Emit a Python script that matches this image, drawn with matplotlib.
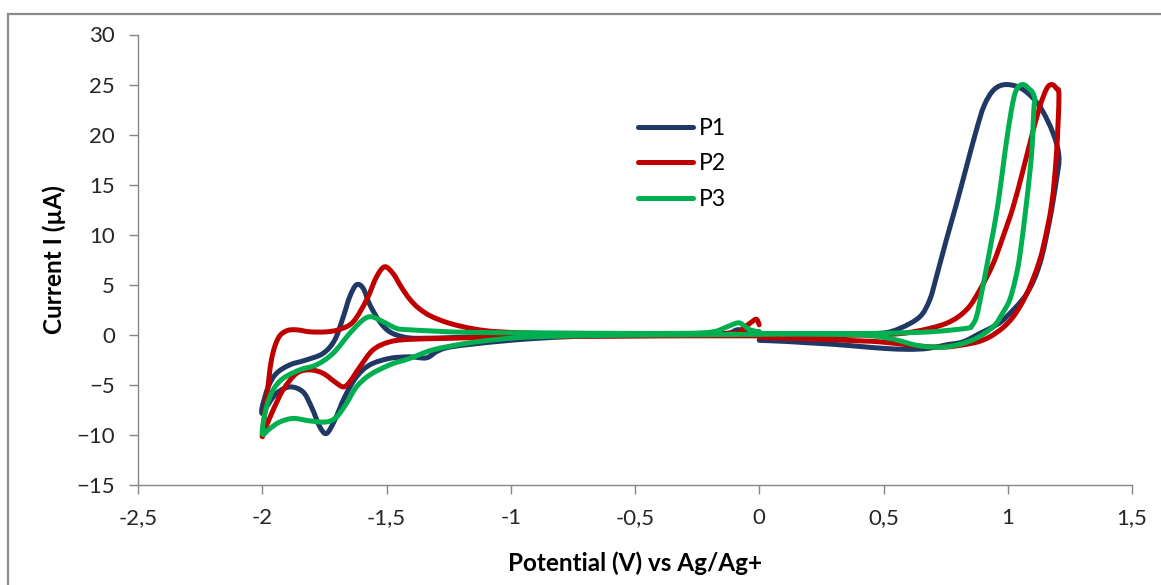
import numpy as np
import matplotlib
matplotlib.use("Agg")
import matplotlib.pyplot as plt
from matplotlib.lines import Line2D
from matplotlib.path import Path
from matplotlib.patches import PathPatch
from matplotlib.ticker import FuncFormatter

plt.rcParams['font.family'] = ['Lato', 'DejaVu Sans']

# cyclic voltammograms: (potential V, current uA) along the scan
p1 = [(0.0, -0.55), (0.1, -0.65), (0.2, -0.8), (0.3, -0.95), (0.4, -1.15), (0.5, -1.35),
      (0.6, -1.45), (0.68, -1.35), (0.753, -1.0), (0.82, -0.7), (0.888, 0.15), (0.955, 1.0),
      (0.995, 1.8), (1.076, 4.1), (1.129, 7.1), (1.169, 11.5), (1.196, 15.5), (1.206, 17.8),
      (1.183, 20.1), (1.129, 22.8), (1.062, 24.5), (0.995, 25.0), (0.945, 24.5), (0.905, 22.9),
      (0.872, 20.3), (0.834, 16.8), (0.794, 13.1), (0.753, 9.5), (0.713, 5.8), (0.686, 3.5),
      (0.646, 1.8), (0.566, 0.65), (0.485, 0.15), (0.3, 0.1), (0.0, 0.05),
      (-0.3, -0.05), (-0.6, -0.1), (-0.78, -0.2), (-0.98, -0.5), (-1.18, -1.0), (-1.26, -1.3),
      (-1.3, -1.7), (-1.34, -2.3), (-1.406, -2.2), (-1.487, -2.35), (-1.567, -3.0), (-1.621, -4.2),
      (-1.668, -6.2), (-1.708, -8.5), (-1.741, -9.85), (-1.768, -9.2), (-1.802, -7.2),
      (-1.836, -5.7), (-1.889, -5.2), (-1.943, -5.85), (-1.983, -7.2), (-2.0, -7.85),
      (-2.0, -7.2), (-1.976, -5.2), (-1.943, -3.85), (-1.889, -3.0), (-1.822, -2.5),
      (-1.755, -1.85), (-1.708, -0.5), (-1.674, 1.8), (-1.648, 3.8), (-1.621, 5.0),
      (-1.594, 4.65), (-1.567, 3.0), (-1.527, 1.3), (-1.487, 0.3), (-1.433, -0.2),
      (-1.37, -0.35), (-1.2, -0.25), (-1.0, -0.15), (-0.7, -0.05), (-0.4, 0.0), (-0.2, 0.05),
      (-0.12, 0.2), (-0.09, 0.5), (-0.06, 0.45), (-0.03, 0.3), (0.0, 0.3)]

p2 = [(0.0, -0.25), (0.2, -0.4), (0.4, -0.6), (0.485, -0.7), (0.6, -1.0), (0.686, -1.2),
      (0.76, -1.2), (0.82, -1.0), (0.88, -0.7), (0.928, -0.2), (0.98, 0.7), (1.022, 1.8),
      (1.06, 3.3), (1.089, 4.8), (1.12, 6.8), (1.143, 8.8), (1.177, 13.1), (1.196, 18.1),
      (1.206, 23.8), (1.196, 24.6), (1.177, 25.0), (1.157, 24.6), (1.129, 22.8), (1.096, 19.8),
      (1.062, 16.5), (1.022, 12.8), (0.981, 9.8), (0.941, 7.1), (0.888, 4.5), (0.834, 2.5),
      (0.753, 1.15), (0.619, 0.3), (0.485, 0.0), (0.2, -0.05), (0.0, -0.1),
      (-0.3, -0.1), (-0.7, -0.15), (-1.0, -0.2), (-1.25, -0.35), (-1.406, -0.45), (-1.487, -0.7),
      (-1.554, -1.5), (-1.607, -3.2), (-1.648, -4.7), (-1.674, -5.2), (-1.708, -4.7),
      (-1.755, -3.85), (-1.808, -3.5), (-1.862, -3.85), (-1.916, -5.5), (-1.956, -7.5),
      (-1.99, -9.5), (-2.0, -10.0),
      (-1.983, -6.5), (-1.963, -2.5), (-1.936, -0.35), (-1.902, 0.4), (-1.862, 0.5),
      (-1.808, 0.3), (-1.741, 0.3), (-1.688, 0.55), (-1.634, 1.3), (-1.58, 3.5), (-1.54, 5.8),
      (-1.507, 6.8), (-1.473, 6.1), (-1.44, 4.75), (-1.406, 3.55), (-1.37, 2.65), (-1.32, 1.85),
      (-1.246, 1.15), (-1.15, 0.6), (-1.045, 0.3), (-0.8, 0.1), (-0.4, 0.05), (-0.1, 0.15),
      (-0.065, 0.65), (-0.03, 1.3), (-0.011, 1.55), (0.0, 1.0)]

p3 = [(0.0, 0.15), (0.2, 0.1), (0.4, 0.0), (0.485, -0.2), (0.55, -0.5), (0.646, -1.1),
      (0.753, -1.2), (0.86, -0.5), (0.941, 0.8), (0.98, 2.2), (1.008, 3.5), (1.03, 5.5),
      (1.048, 7.8), (1.075, 13.1), (1.096, 18.1), (1.105, 22.5), (1.109, 23.5), (1.1, 24.2),
      (1.089, 24.5), (1.062, 25.0), (1.035, 24.5), (1.015, 22.5), (0.988, 18.1), (0.961, 13.1),
      (0.928, 8.5), (0.894, 4.1), (0.874, 1.8), (0.855, 0.9), (0.834, 0.65), (0.686, 0.3),
      (0.485, 0.15), (0.2, 0.1), (0.0, 0.05),
      (-0.3, 0.0), (-0.6, -0.05), (-0.91, -0.2), (-1.05, -0.45), (-1.179, -0.85), (-1.313, -1.5),
      (-1.406, -2.35), (-1.487, -3.0), (-1.567, -4.0), (-1.621, -5.2), (-1.661, -6.85),
      (-1.701, -8.2), (-1.741, -8.7), (-1.808, -8.6), (-1.875, -8.35), (-1.929, -8.7),
      (-1.969, -9.35), (-2.0, -9.85),
      (-1.983, -7.2), (-1.956, -5.5), (-1.916, -4.35), (-1.849, -3.5), (-1.782, -3.0),
      (-1.715, -1.85), (-1.648, 0.15), (-1.594, 1.5), (-1.56, 1.8), (-1.513, 1.3), (-1.46, 0.65),
      (-1.406, 0.5), (-1.179, 0.25), (-0.884, 0.2), (-0.6, 0.15), (-0.3, 0.15), (-0.186, 0.3),
      (-0.13, 0.8), (-0.085, 1.2), (-0.06, 0.9), (-0.038, 0.5), (0.0, 0.3)]

labels = ['P1', 'P2', 'P3']
colors = ['#1F3864', '#C00000', '#00B050']


def smooth_path(pts):
    # smoothed line through the points, Catmull-Rom segments as cubic Beziers
    p = np.asarray(pts, dtype=float)
    ext = np.vstack([p[0], p, p[-1]])
    verts = [p[0]]
    codes = [Path.MOVETO]
    for i in range(1, len(ext) - 2):
        c1 = ext[i] + (ext[i + 1] - ext[i - 1]) / 6.0
        c2 = ext[i + 1] - (ext[i + 2] - ext[i]) / 6.0
        verts += [c1, c2, ext[i + 1]]
        codes += [Path.CURVE4] * 3
    return Path(verts, codes)


fig = plt.figure(figsize=(11.61, 5.85), dpi=100)
ax = fig.add_axes([138 / 1161, 1 - 485 / 585, 994 / 1161, 450.5 / 585])

handles = []
for data, lab, col in zip([p1, p2, p3], labels, colors):
    ax.add_patch(PathPatch(smooth_path(data), facecolor='none', edgecolor=col,
                           lw=3.6, joinstyle='round', capstyle='round'))
    handles.append(Line2D([], [], color=col, lw=3.6, solid_capstyle='round', label=lab))

ax.set_xlim(-2.5, 1.5)
ax.set_ylim(-15, 30)
ax.set_xticks(np.arange(-2.5, 1.51, 0.5))
ax.set_yticks(np.arange(-15, 31, 5))
ax.xaxis.set_major_formatter(FuncFormatter(lambda v, p: ('%g' % v).replace('.', ',')))

for s in ['top', 'right']:
    ax.spines[s].set_visible(False)
for s in ['left', 'bottom']:
    ax.spines[s].set_color('#868686')
    ax.spines[s].set_linewidth(1.0)
ax.tick_params(axis='both', colors='#868686', length=6.5, width=1.0,
               labelsize=16, labelcolor='#262626')
ax.tick_params(axis='y', pad=10)
ax.tick_params(axis='x', pad=10)

ax.set_xlabel('Potential (V) vs Ag/Ag+', fontsize=17.5, fontweight='bold')
ax.set_ylabel('Current I (µA)', fontsize=17.5, fontweight='bold')
ax.xaxis.set_label_coords(0.5, -0.148)
ax.yaxis.set_label_coords(-0.072, 0.5)

ax.legend(handles=handles, loc='upper left', bbox_to_anchor=(638 / 1161, 1 - 118 / 585),
          bbox_transform=fig.transFigure, frameon=False, fontsize=16.5,
          handlelength=2.4, handletextpad=0.25, labelspacing=0.63,
          borderpad=0, borderaxespad=0)

# chart area border (left and top edges fall inside the image)
fig.add_artist(Line2D([8 / 1161, 8 / 1161], [0, 1 - 14 / 585], transform=fig.transFigure,
                      color='#8C8C8C', lw=1.6))
fig.add_artist(Line2D([8 / 1161, 1], [1 - 14 / 585, 1 - 14 / 585], transform=fig.transFigure,
                      color='#8C8C8C', lw=1.6))

fig.savefig('out.png', dpi=100)
